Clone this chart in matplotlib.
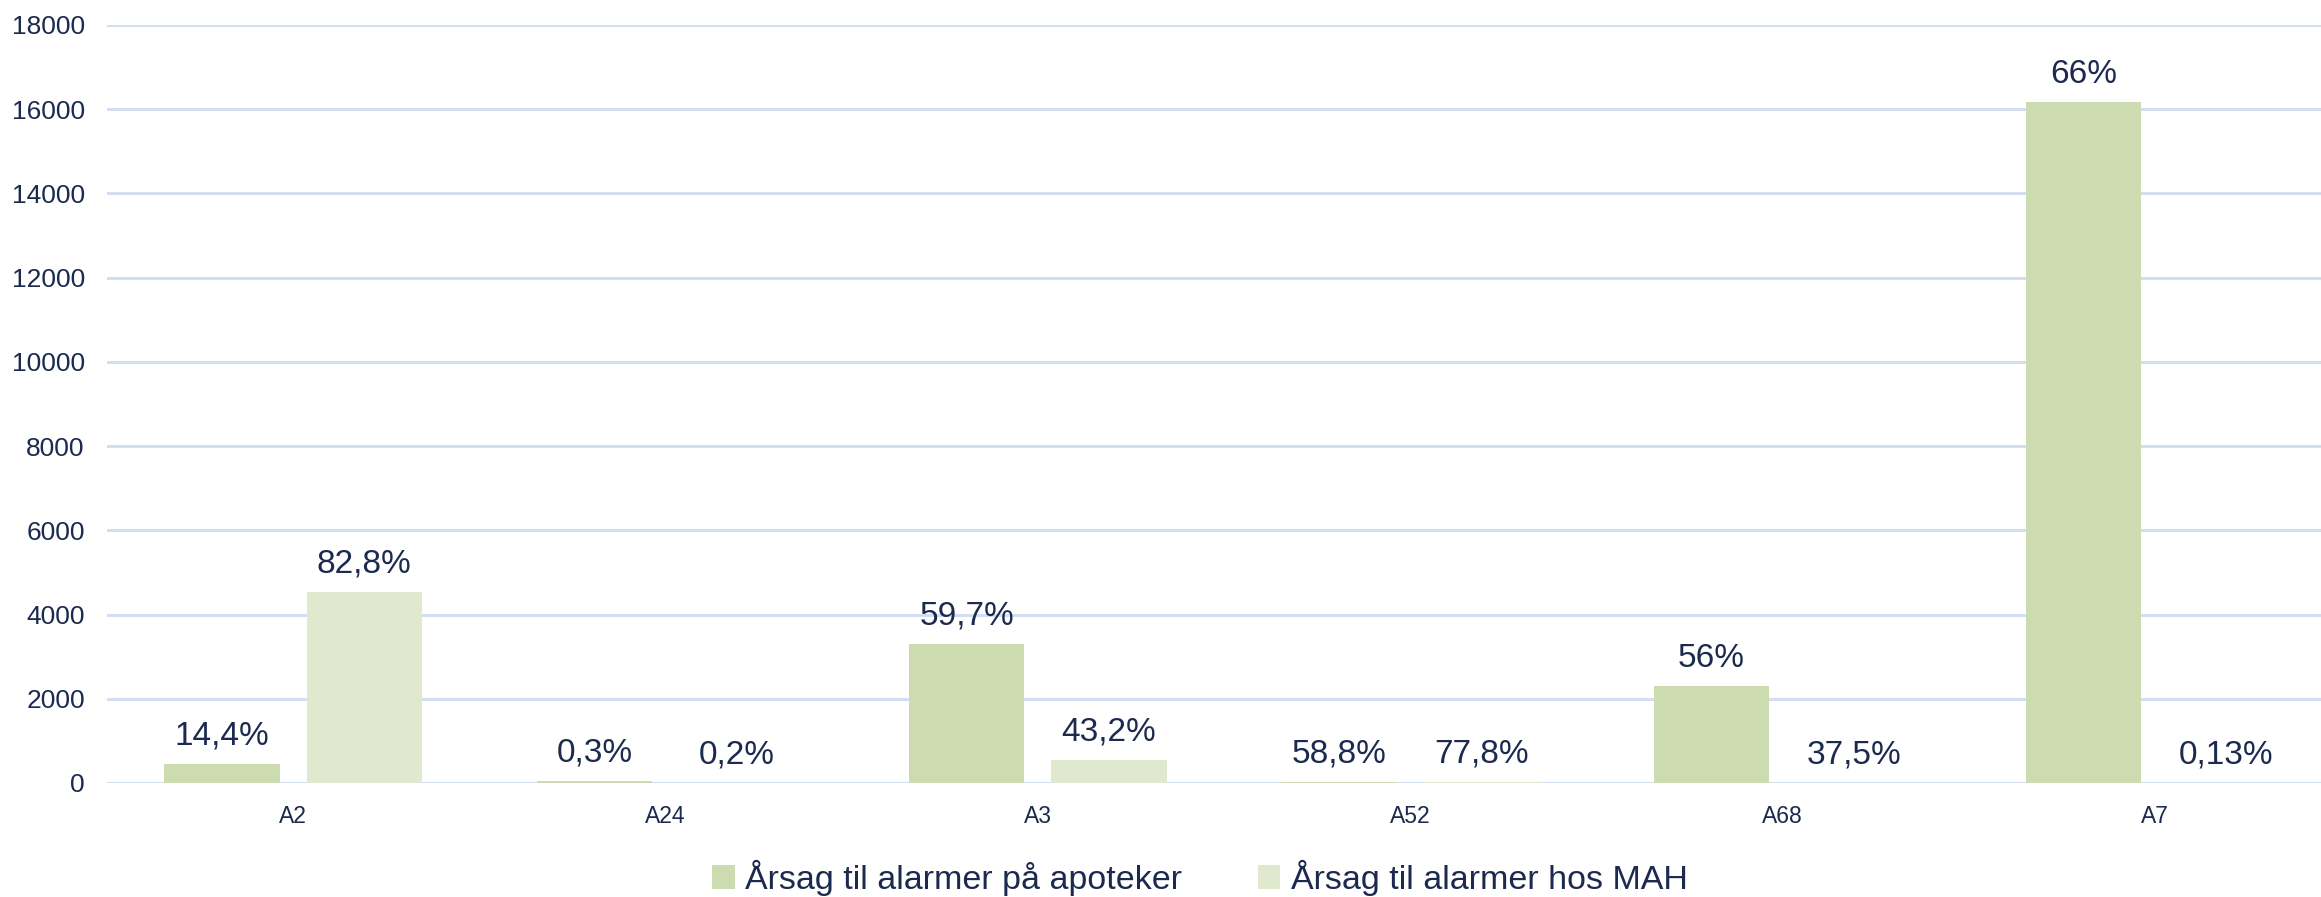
import matplotlib.pyplot as plt
import numpy as np

# data
categories = ["A2", "A24", "A3", "A52", "A68", "A7"]
apotek = [440, 56, 3300, 28, 2300, 16170]
mah = [4540, 6, 552, 28, 4, 3]
apotek_labels = ["14,4%", "0,3%", "59,7%", "58,8%", "56%", "66%"]
mah_labels = ["82,8%", "0,2%", "43,2%", "77,8%", "37,5%", "0,13%"]
yticks = [0, 2000, 4000, 6000, 8000, 10000, 12000, 14000, 16000, 18000]

navy = "#1b2a4e"
c_apotek = "#cddcb0"
c_mah = "#e0e8cd"
grid_c = "#d3def3"

plt.rcParams["font.family"] = ["Liberation Sans", "DejaVu Sans"]

fig = plt.figure(figsize=(23.21, 8.97), dpi=100)
ax = fig.add_axes([0.0461, 0.1271, 0.9625, 0.8451])

x = np.arange(len(categories))
w = 0.31
off = 0.191

b1 = ax.bar(x - off, apotek, w, color=c_apotek, label="Årsag til alarmer på apoteker", zorder=3)
b2 = ax.bar(x + off, mah, w, color=c_mah, label="Årsag til alarmer hos MAH", zorder=3)

for bars, labels in ((b1, apotek_labels), (b2, mah_labels)):
    for rect, lab in zip(bars, labels):
        ax.annotate(lab, (rect.get_x() + rect.get_width() / 2, rect.get_height()),
                    xytext=(0, 9), textcoords="offset points",
                    ha="center", va="bottom", fontsize=24, color=navy)

ax.set_xlim(-0.5, len(categories) - 0.5)
ax.set_ylim(0, 18000)
ax.set_yticks(yticks)
ax.set_xticks(x)
ax.set_xticklabels(categories)
ax.yaxis.grid(True, color=grid_c, linewidth=2.2, zorder=0)
ax.set_axisbelow(True)
for s in ax.spines.values():
    s.set_visible(False)
ax.tick_params(axis="y", length=0, pad=16, labelsize=19, labelcolor=navy)
ax.tick_params(axis="x", length=0, pad=16, labelsize=16.5, labelcolor=navy)

fig.legend(loc="center", bbox_to_anchor=(1200 / 2321, 19 / 897), ncol=2, frameon=False,
           fontsize=24.5, labelcolor=navy, handlelength=0.65, handleheight=0.7,
           handletextpad=0.3, columnspacing=2.25)

fig.savefig("out.png", dpi=100)
